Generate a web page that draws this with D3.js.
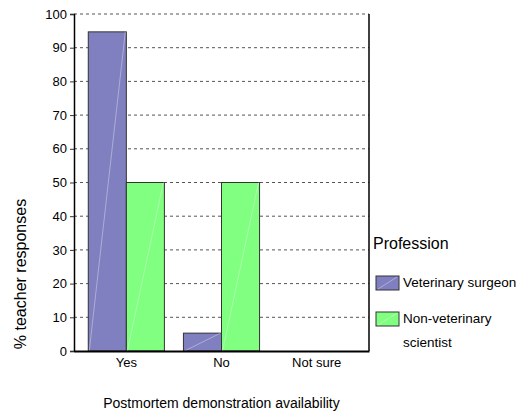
<!DOCTYPE html>
<html>
<head>
<meta charset="utf-8">
<script src="https://cdn.jsdelivr.net/npm/d3@7/dist/d3.min.js"></script>
<style>
  body { margin: 0; background: #fff; }
  svg { font-family: "Liberation Sans", Arial, sans-serif; }
</style>
</head>
<body>
<svg id="chart" width="524" height="417"></svg>
<script>
// data
const categories = ["Yes", "No", "Not sure"];
const seriesNames = ["Veterinary surgeon", "Non-veterinary scientist"];
const vetSurgeon = [94.7, 5.3, 0];
const nonVet = [50, 50, 0];
const yTicks = [0, 10, 20, 30, 40, 50, 60, 70, 80, 90, 100];
const colors = ["#8080c0", "#80ff80"];

const svg = d3.select("#chart");
const plot = { left: 74, right: 369, top: 14, bottom: 351 };

const x = d3.scaleBand()
    .domain(categories)
    .range([plot.left, plot.right])
    .paddingInner(0.2)
    .paddingOuter(0.15);

const xSub = d3.scaleBand()
    .domain(seriesNames)
    .range([0, x.bandwidth()]);

const y = d3.scaleLinear()
    .domain([0, 100])
    .range([plot.bottom, plot.top]);

// dashed grid lines
svg.append("g")
    .selectAll("line")
    .data(yTicks.filter(d => d > 0))
    .enter()
    .append("line")
    .attr("x1", plot.left)
    .attr("x2", plot.right)
    .attr("y1", d => y(d))
    .attr("y2", d => y(d))
    .attr("stroke", "#555")
    .attr("stroke-width", 1)
    .attr("stroke-dasharray", "3,3");

// bars
const rows = categories.map((c, i) => ({ cat: c, values: [vetSurgeon[i], nonVet[i]] }));
const groups = svg.append("g")
    .selectAll("g")
    .data(rows)
    .enter()
    .append("g")
    .attr("transform", d => `translate(${x(d.cat)},0)`);

const bars = groups.selectAll("g.bar")
    .data(d => d.values.map((v, j) => ({ name: seriesNames[j], value: v, idx: j })))
    .enter()
    .append("g")
    .attr("class", "bar")
    .filter(d => d.value > 0);

bars.append("rect")
    .attr("x", d => xSub(d.name))
    .attr("y", d => y(d.value))
    .attr("width", xSub.bandwidth())
    .attr("height", d => y(0) - y(d.value))
    .attr("fill", d => colors[d.idx])
    .attr("stroke", "#333")
    .attr("stroke-width", 1);

// faint diagonal sheen inside each bar
bars.append("line")
    .attr("x1", d => xSub(d.name) + 1)
    .attr("y1", y(0))
    .attr("x2", d => xSub(d.name) + xSub.bandwidth() - 1)
    .attr("y2", d => y(d.value))
    .attr("stroke", "#fff")
    .attr("stroke-opacity", 0.35)
    .attr("stroke-width", 1);

// y axis
const yAxis = svg.append("g")
    .attr("transform", `translate(${plot.left},0)`)
    .call(d3.axisLeft(y).tickValues(yTicks).tickSize(4).tickPadding(3));
yAxis.select(".domain").attr("stroke", "#000").attr("stroke-width", 1.5);
yAxis.selectAll(".tick line").attr("stroke", "#333");
yAxis.selectAll(".tick text").attr("font-size", 13).attr("fill", "#000")
    .attr("font-family", "Liberation Sans, Arial, sans-serif");

// x axis
const xAxis = svg.append("g")
    .attr("transform", `translate(0,${plot.bottom})`)
    .call(d3.axisBottom(x).tickSize(0).tickPadding(7));
xAxis.select(".domain").attr("stroke", "#000").attr("stroke-width", 2);
xAxis.selectAll(".tick text").attr("font-size", 13).attr("fill", "#000")
    .attr("font-family", "Liberation Sans, Arial, sans-serif");

// right border
svg.append("line")
    .attr("x1", plot.right).attr("x2", plot.right)
    .attr("y1", plot.top).attr("y2", plot.bottom)
    .attr("stroke", "#000").attr("stroke-width", 1.5);

// axis titles
svg.append("text")
    .attr("x", (plot.left + plot.right) / 2)
    .attr("y", 408)
    .attr("text-anchor", "middle")
    .attr("font-size", 14)
    .text("Postmortem demonstration availability");

svg.append("text")
    .attr("transform", "translate(26,274) rotate(-90)")
    .attr("text-anchor", "middle")
    .attr("font-size", 16)
    .text("% teacher responses");

// legend
const legend = svg.append("g");
legend.append("text")
    .attr("x", 373).attr("y", 249)
    .attr("font-size", 16)
    .text("Profession");

const legendRows = [
    { color: colors[0], lines: ["Veterinary surgeon"], y: 276 },
    { color: colors[1], lines: ["Non-veterinary", "scientist"], y: 312 }
];
const items = legend.selectAll("g.item")
    .data(legendRows)
    .enter()
    .append("g")
    .attr("class", "item");
items.append("rect")
    .attr("x", 376).attr("y", d => d.y)
    .attr("width", 23).attr("height", 14)
    .attr("fill", d => d.color)
    .attr("stroke", "#333");
items.append("line")
    .attr("x1", 378).attr("y1", d => d.y + 13)
    .attr("x2", 397).attr("y2", d => d.y + 1)
    .attr("stroke", "#fff").attr("stroke-opacity", 0.35);
items.each(function(d) {
    d3.select(this).selectAll("text")
        .data(d.lines)
        .enter()
        .append("text")
        .attr("x", 403)
        .attr("y", (t, i) => d.y + 11 + i * 24)
        .attr("font-size", 13.5)
        .text(t => t);
});
</script>
</body>
</html>
